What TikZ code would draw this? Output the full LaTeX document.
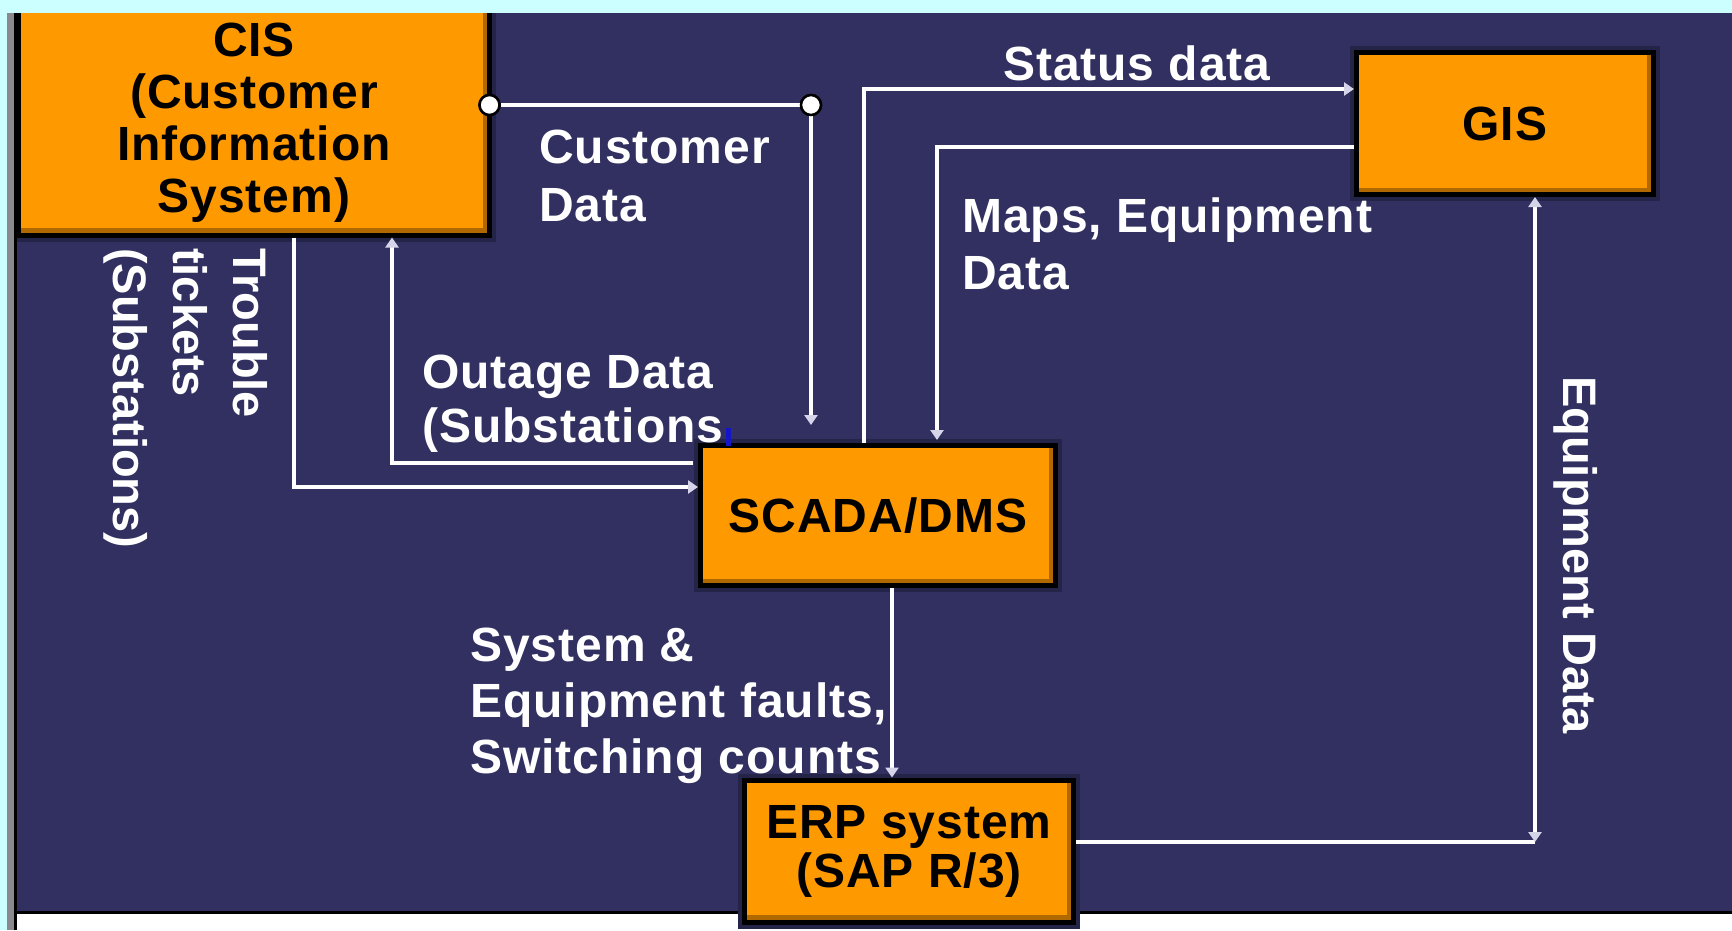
\documentclass[tikz,border=0pt]{standalone}
\usepackage{fontspec}
\setmainfont{Liberation Sans}[LetterSpace=2]
\usetikzlibrary{arrows.meta}

\definecolor{navy}{RGB}{49,48,96}
\definecolor{halo}{RGB}{36,35,72}
\definecolor{boxorange}{RGB}{255,153,0}
\definecolor{boxshade}{RGB}{176,104,0}
\definecolor{topcyan}{RGB}{204,255,255}
\definecolor{framegray}{RGB}{138,138,142}
\definecolor{arrowc}{RGB}{214,212,232}
\definecolor{markblue}{RGB}{20,20,200}

\tikzset{
  sysbox/.style={draw=black, line width=5pt, fill=boxorange, inner sep=0pt,
    align=center, text=black,
    font=\fontsize{48}{52}\selectfont\bfseries,
    preaction={draw=halo, line width=13pt},
    path picture={\draw[line width=14pt, boxshade]
      (path picture bounding box.south west) -- (path picture bounding box.south east)
      -- (path picture bounding box.north east);}},
  flow/.style={draw=white, line width=3.5pt},
  arr/.style={-{Triangle[length=10pt,width=13pt,color=arrowc]}},
  dualarr/.style={{Triangle[length=10pt,width=13pt,color=arrowc]}-{Triangle[length=10pt,width=13pt,color=arrowc]}},
  dot/.style={circle, fill=white, draw=black, line width=2.5pt, minimum size=20pt, inner sep=0pt},
  lbl/.style={text=white, align=left, inner sep=0pt, anchor=north west,
    font=\fontsize{48}{58}\selectfont\bfseries},
  sidelbl/.style={lbl, rotate=-90,
    font=\fontsize{47}{60}\selectfont\bfseries\addfontfeature{LetterSpace=0}},
}

\begin{document}
\begin{tikzpicture}[x=1pt, y=-1pt]
\useasboundingbox (0,0) rectangle (1732,930);

% slide background and lower border
\fill[navy] (0,0) rectangle (1732,930);
\fill[white] (17,914) rectangle (1732,930);
\fill[black] (17,911) rectangle (1732,914);

% system boxes
\node[sysbox, minimum width=471pt, minimum height=225pt] (cis) at (254,122.5)
  {CIS\\(Customer\\Information\\System)};
\node[sysbox, minimum width=355pt, minimum height=140pt] (scada) at (878,515.5) {SCADA/DMS};
\node[sysbox, minimum width=297pt, minimum height=142pt] (gis) at (1505,123.5) {GIS};
\node[sysbox, minimum width=329pt, minimum height=142pt, font=\fontsize{48}{49}\selectfont\bfseries]
  (erp) at (909,851) {ERP system\\(SAP R/3)};

% routing points
\coordinate (statusx) at (864,89);
\coordinate (mapsx) at (937,147);
\coordinate (faultx) at (892,700);
\coordinate (ttcorner) at (294,487);
\coordinate (odcorner) at (392,463);
\coordinate (eqcorner) at (1535,842);

% customer data: CIS -> SCADA/DMS
\node[dot] (dotA) at (489.5,105) {};
\node[dot] (dotB) at (811,105) {};
\draw[flow] (dotA) -- (dotB);
\draw[flow, arr, shorten >=18pt] (dotB) -- (dotB |- scada.north);
\node[dot] at (dotA) {};
\node[dot] at (dotB) {};

% status data: SCADA/DMS -> GIS
\draw[flow, arr] (scada.north -| statusx) -- (statusx) -- (gis.west |- statusx);

% maps, equipment data: GIS -> SCADA/DMS
\draw[flow, arr, shorten >=3pt] (gis.west |- mapsx) -- (mapsx) -- (mapsx |- scada.north);

% faults and counts: SCADA/DMS -> ERP
\draw[flow, arr] (scada.south -| faultx) -- (erp.north -| faultx);

% trouble tickets: CIS -> SCADA/DMS
\draw[flow, arr] (cis.south -| ttcorner) -- (ttcorner) -- (scada.west |- ttcorner);

% outage data: SCADA/DMS -> CIS
\draw[flow, arr, shorten <=5pt] (scada.west |- odcorner) -- (odcorner) -- (odcorner |- cis.south);

% equipment data: ERP <-> GIS
\draw[flow] (erp.east |- eqcorner) -- (eqcorner);
\draw[flow, dualarr] (eqcorner) -- (eqcorner |- gis.south);

% labels
\node[lbl] (lcust) at (539,130) {Customer\\Data};
\node[lbl, font=\fontsize{48}{54}\selectfont\bfseries] (lout) at (422,355) {Outage Data\\(Substations};
\fill[markblue] (726,428) rectangle (731,446);
\node[lbl] (lstat) at (1003,46) {Status data};
\node[lbl, font=\fontsize{48}{57}\selectfont\bfseries] (lmaps) at (962,198) {Maps, Equipment\\Data};
\node[lbl, font=\fontsize{48}{56}\selectfont\bfseries] (lfault) at (470,628)
  {System \&\\Equipment faults,\\Switching counts};
\node[sidelbl] (ltt) at (268,248) {Trouble\\tickets\\(Substations)};
\node[sidelbl] (leq) at (1598,376) {Equipment Data};

% window frame: top band and left edge
\fill[topcyan] (0,0) rectangle (1732,13);
\fill[topcyan] (0,0) rectangle (7,930);
\fill[framegray] (7,13) rectangle (14,930);
\fill[black] (14,13) rectangle (17,930);
\end{tikzpicture}
\end{document}
